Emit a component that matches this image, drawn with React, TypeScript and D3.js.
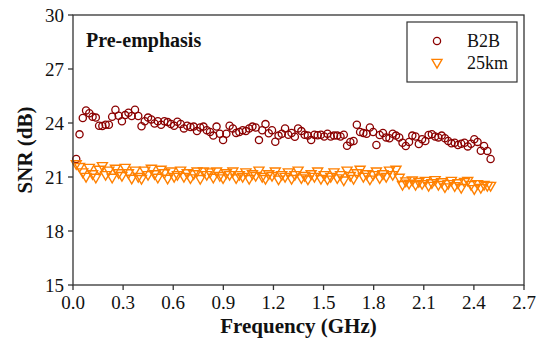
import React from "react";
import * as d3 from "d3";

const yTicks = [15, 18, 21, 24, 27, 30];
const xTicks = [0, 0.3, 0.6, 0.9, 1.2, 1.5, 1.8, 2.1, 2.4, 2.7];

const b2b = [
  22.0, 23.37, 24.28, 24.7, 24.54, 24.35, 24.3, 23.85,
  23.83, 23.9, 23.9, 24.35, 24.74, 24.4, 24.1, 24.44,
  24.57, 24.39, 24.74, 24.39, 23.82, 24.1, 24.3, 24.2,
  23.97, 24.1, 23.9, 24.1, 24.05, 23.95, 23.85, 24.07,
  23.95, 23.7, 23.85, 23.78, 23.8, 23.55, 23.75, 23.8,
  23.6, 23.5, 23.3, 23.8, 23.4, 23.05, 23.4, 23.85,
  23.7, 23.45, 23.5, 23.6, 23.55, 23.7, 23.8, 23.75,
  23.05, 23.6, 23.94, 23.43, 23.6, 22.96, 23.3, 23.4,
  23.7, 23.35, 23.45, 23.24, 23.7, 23.55, 23.35, 23.3,
  23.05, 23.35, 23.32, 23.35, 23.25, 23.4, 23.25, 23.3,
  23.3, 23.25, 23.35, 22.74, 22.95, 23.0, 23.9, 23.5,
  23.45, 23.4, 23.75, 23.5, 22.78, 23.33, 23.45, 23.2,
  23.15, 23.4, 23.3, 23.2, 22.9, 22.72, 22.95, 23.3,
  23.25, 22.83, 23.1, 23.0, 23.33, 23.38, 23.25, 23.2,
  23.3, 23.15, 23.0, 22.87, 22.9, 22.78, 22.85, 22.9,
  22.7, 22.85, 23.1, 22.95, 22.46, 22.72, 22.45, 22.0,
];

const km25 = [
  21.7, 21.55, 21.25, 21.0, 21.5, 21.15, 20.95, 21.4,
  21.6, 21.1, 21.35, 20.95, 21.45, 21.2, 21.05, 21.5,
  21.2, 20.9, 21.35, 21.0, 20.88, 21.35, 21.1, 21.45,
  21.15, 20.95, 21.4, 21.2, 20.9, 21.3, 21.0, 21.1,
  21.35, 21.0, 21.2, 20.92, 21.15, 21.3, 20.88, 21.3,
  21.1, 21.25, 20.95, 21.3, 21.05, 20.92, 21.2, 21.1,
  21.3, 20.92, 21.1, 21.0, 21.25, 20.88, 21.15, 21.05,
  21.35, 21.0, 20.88, 21.15, 21.05, 21.3, 20.85, 21.1,
  21.0, 21.25, 20.88, 21.1, 21.35, 20.92, 21.05, 20.85,
  21.15, 21.0, 21.3, 20.88, 21.1, 20.85, 21.0, 21.25,
  20.92, 21.1, 20.8, 21.35, 21.05, 20.88, 21.2, 21.4,
  21.0, 21.15, 20.85, 21.1, 21.3, 20.92, 21.15, 21.0,
  21.35, 21.1, 21.4, 20.95, 20.55, 20.75, 20.62, 20.8,
  20.55, 20.72, 20.6, 20.78, 20.5, 20.65, 20.82, 20.55,
  20.7, 20.42, 20.6, 20.78, 20.48, 20.65, 20.38, 20.72,
  20.78, 20.55, 20.32, 20.6, 20.38, 20.55, 20.5, 20.5,
];

const freqStep = 2.5 / 128;
const seriesNames = ["B2B", "25km"];
const colors = ["#8b0000", "#ff8000"];

const W = 538, H = 344;
const L = 73, R = 524, T = 15, B = 285;
const axisColor = "#333";
const font = "'Liberation Serif', 'Times New Roman', serif";

const triPath = "M-5,-3.6L5,-3.6L0,5Z";

export default function App() {
  const x = d3.scaleLinear().domain([0, 2.7]).range([L, R]);
  const y = d3.scaleLinear().domain([15, 30]).range([B, T]);
  const fmt = d3.format(".1f");

  return (
    <svg width={W} height={H} style={{ position: "absolute", left: 0, top: 0, background: "#fff" }}>
      <rect x={0} y={0} width={W} height={H} fill="#fff" />
      {b2b.map((v, i) => (
        <circle key={"b" + i} cx={x((i + 1) * freqStep)} cy={y(v)} r={3.6}
          fill="none" stroke={colors[0]} strokeWidth={1.3} />
      ))}
      {km25.map((v, i) => (
        <path key={"k" + i} d={triPath} transform={`translate(${x((i + 1) * freqStep)},${y(v)})`}
          fill="none" stroke={colors[1]} strokeWidth={1.4} />
      ))}
      <rect x={L} y={T} width={R - L} height={B - T} fill="none" stroke={axisColor} strokeWidth={1.3} />
      {yTicks.map((t) => (
        <g key={"y" + t}>
          <line x1={L - 5} x2={L} y1={y(t)} y2={y(t)} stroke={axisColor} strokeWidth={1.3} />
          <text x={L - 9} y={y(t) + 6.5} textAnchor="end" fontFamily={font} fontSize={19} fill="#111">{t}</text>
        </g>
      ))}
      {xTicks.map((t) => (
        <g key={"x" + t}>
          <line x1={x(t)} x2={x(t)} y1={B} y2={B + 5} stroke={axisColor} strokeWidth={1.3} />
          <text x={x(t)} y={B + 24} textAnchor="middle" fontFamily={font} fontSize={19} fill="#111">{fmt(t)}</text>
        </g>
      ))}
      <text x={(L + R) / 2} y={333} textAnchor="middle" fontFamily={font} fontSize={21} fontWeight="bold" fill="#111">Frequency (GHz)</text>
      <text transform={`translate(32,${(T + B) / 2}) rotate(-90)`} textAnchor="middle" fontFamily={font} fontSize={21} fontWeight="bold" fill="#111">SNR (dB)</text>
      <text x={86} y={47} fontFamily={font} fontSize={20} fontWeight="bold" fill="#111">Pre-emphasis</text>
      <rect x={407} y={22} width={110} height={60} fill="#fff" stroke={axisColor} strokeWidth={1.2} />
      <circle cx={437} cy={41} r={3.6} fill="none" stroke={colors[0]} strokeWidth={1.3} />
      <path d={triPath} transform="translate(437,63)" fill="none" stroke={colors[1]} strokeWidth={1.4} />
      <text x={467} y={47} fontFamily={font} fontSize={18} fill="#111">{seriesNames[0]}</text>
      <text x={467} y={69} fontFamily={font} fontSize={18} fill="#111">{seriesNames[1]}</text>
    </svg>
  );
}
